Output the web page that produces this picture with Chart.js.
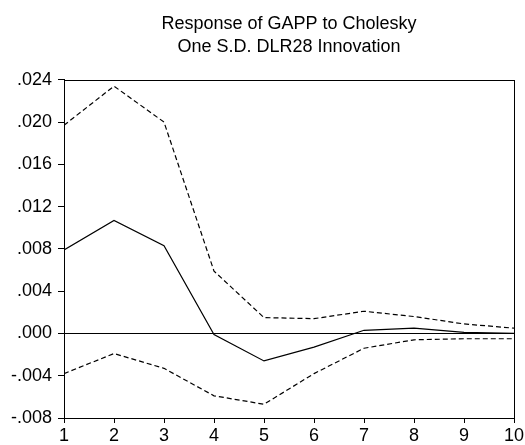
<!DOCTYPE html>
<html>
<head>
<meta charset="utf-8">
<script src="https://cdn.jsdelivr.net/npm/chart.js@4/dist/chart.umd.min.js"></script>
<style>
  html, body { margin: 0; padding: 0; background: #fff; }
  #wrap { width: 525px; height: 445px; }
</style>
</head>
<body>
<div id="wrap"><canvas id="c"></canvas></div>
<script>
// Impulse-response periods and estimates with +/- 2 S.E. bands
const periods = [1, 2, 3, 4, 5, 6, 7, 8, 9, 10];
const response = [0.0079, 0.0107, 0.0083, -0.0001, -0.0026, -0.0013, 0.0003, 0.0005, 0.0001, 0.0000];
const upperBand = [0.0197, 0.0234, 0.0200, 0.0059, 0.0015, 0.0014, 0.0021, 0.0016, 0.0009, 0.0005];
const lowerBand = [-0.0038, -0.0019, -0.0033, -0.0059, -0.0067, -0.0038, -0.0014, -0.0006, -0.0005, -0.0005];
const titleLines = ['Response of GAPP to Cholesky', 'One S.D. DLR28 Innovation'];

const FONT = 'Liberation Sans, Arial, sans-serif';
const toPoints = vals => periods.map((p, i) => ({ x: p, y: vals[i] }));

const fmtY = v => {
  if (Math.abs(v) < 1e-9) return '.000';
  return (v < 0 ? '-' : '') + Math.abs(v).toFixed(3).replace(/^0/, '');
};

// Box around the plot area plus the zero reference line
const framePlugin = {
  id: 'frame',
  afterDatasetsDraw(chart) {
    const { ctx, chartArea: a, scales } = chart;
    ctx.save();
    ctx.strokeStyle = '#000';
    ctx.lineWidth = 1;
    const y0 = Math.round(scales.y.getPixelForValue(0)) + 0.5;
    ctx.beginPath();
    ctx.moveTo(a.left, y0);
    ctx.lineTo(a.right, y0);
    ctx.stroke();
    ctx.strokeRect(Math.round(a.left) + 0.5, Math.round(a.top) + 0.5,
                   Math.round(a.right - a.left), Math.round(a.bottom - a.top));
    ctx.restore();
  }
};

const lineStyle = (data, dashed) => ({
  data: toPoints(data),
  borderColor: '#000',
  borderWidth: 1.2,
  borderDash: dashed ? [5, 3] : [],
  pointRadius: 0,
  tension: 0,
  fill: false
});

new Chart(document.getElementById('c'), {
  type: 'line',
  data: {
    datasets: [
      lineStyle(response, false),
      lineStyle(upperBand, true),
      lineStyle(lowerBand, true)
    ]
  },
  options: {
    responsive: true,
    maintainAspectRatio: false,
    animation: false,
    layout: { padding: { left: 0, right: 11, top: 0, bottom: 0 } },
    plugins: {
      legend: { display: false },
      tooltip: { enabled: false },
      title: {
        display: true,
        text: titleLines,
        fullSize: false,
        color: '#000',
        font: { family: FONT, size: 18, weight: 'normal', lineHeight: 1.3 },
        padding: { top: 12, bottom: 21 }
      }
    },
    scales: {
      x: {
        type: 'linear',
        min: 1,
        max: 10,
        border: { display: true, color: '#000', width: 1 },
        grid: { drawOnChartArea: false, drawTicks: true, tickLength: 5, color: '#000' },
        ticks: {
          stepSize: 1,
          color: '#000',
          padding: 2,
          maxRotation: 0,
          font: { family: FONT, size: 18 },
          callback: v => String(v)
        },
        afterFit(s) { s.height = 27; s.paddingLeft = 0; s.paddingRight = 0; }
      },
      y: {
        type: 'linear',
        min: -0.008,
        max: 0.024,
        border: { display: true, color: '#000', width: 1 },
        grid: { drawOnChartArea: false, drawTicks: true, tickLength: 6, color: '#000' },
        ticks: {
          stepSize: 0.004,
          color: '#000',
          padding: 6,
          font: { family: FONT, size: 18 },
          callback: v => fmtY(v)
        },
        afterFit(s) { s.width = 64; s.paddingTop = 0; s.paddingBottom = 0; }
      }
    }
  },
  plugins: [framePlugin]
});
</script>
</body>
</html>
